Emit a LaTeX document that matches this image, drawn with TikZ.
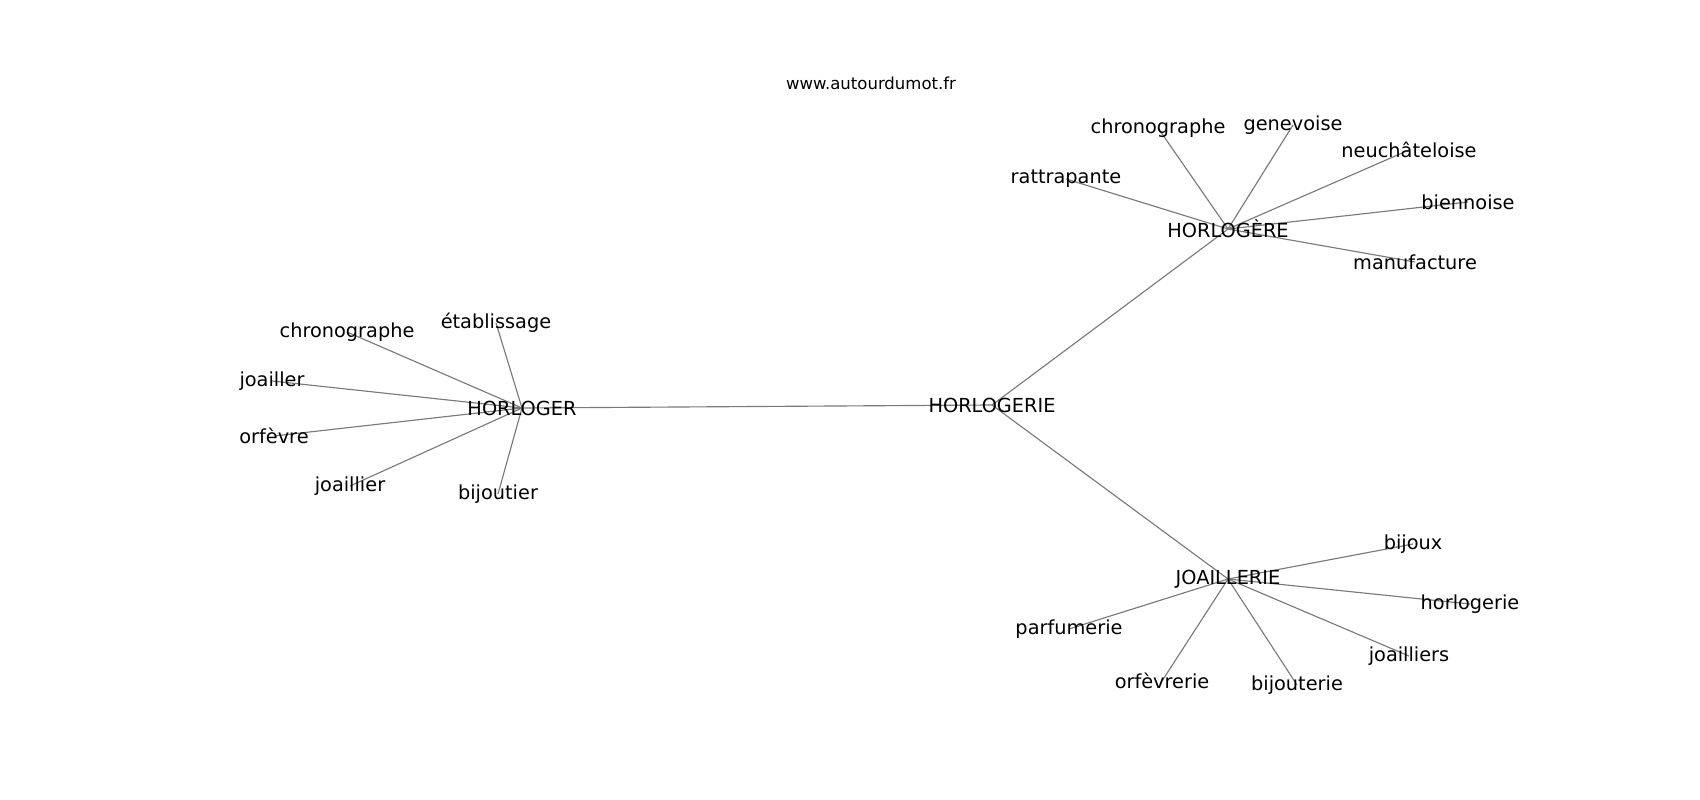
\documentclass[tikz,border=0pt]{standalone}
\usepackage{fontspec}
\setmainfont{DejaVu Sans}
\usetikzlibrary{backgrounds}

\tikzset{
  word/.style={font=\fontsize{11}{13}\selectfont, inner sep=0pt, text=black},
  site/.style={font=\fontsize{9.4}{11}\selectfont, inner sep=0pt},
  link/.style={draw=black!52, line width=0.65pt}
}

\begin{document}
\begin{tikzpicture}[x=0.02cm, y=-0.02cm]
        \useasboundingbox (0, 0) rectangle (1700, 800);

        \node[site] (title) at (871, 83) {www.autourdumot.fr};

        % the four centres
        \node[word] (hgerie) at (992, 405) {HORLOGERIE};
        \node[word] (hger) at (522, 408) {HORLOGER};
        \node[word] (hgere) at (1228, 229) {HORLOGÈRE};
        \node[word] (joail) at (1228, 579) {JOAILLERIE};

        % around HORLOGER
        \node[word] (hger1) at (347, 332) {chronographe};
        \node[word] (hger2) at (496, 323) {établissage};
        \node[word] (hger3) at (272, 381) {joailler};
        \node[word] (hger4) at (274, 436) {orfèvre};
        \node[word] (hger5) at (350, 486) {joaillier};
        \node[word] (hger6) at (498, 494) {bijoutier};

        % around HORLOGÈRE
        \node[word] (hgere1) at (1066, 179) {rattrapante};
        \node[word] (hgere2) at (1158, 128) {chronographe};
        \node[word] (hgere3) at (1293, 125) {genevoise};
        \node[word] (hgere4) at (1409, 150) {neuchâteloise};
        \node[word] (hgere5) at (1468, 202) {biennoise};
        \node[word] (hgere6) at (1415, 262) {manufacture};

        % around JOAILLERIE
        \node[word] (joail1) at (1413, 544) {bijoux};
        \node[word] (joail2) at (1470, 604) {horlogerie};
        \node[word] (joail3) at (1409, 656) {joailliers};
        \node[word] (joail4) at (1297, 685) {bijouterie};
        \node[word] (joail5) at (1162, 681) {orfèvrerie};
        \node[word] (joail6) at (1069, 629) {parfumerie};

        \begin{scope}[on background layer]
            \foreach \a in {hger, hgere, joail}
                \draw[link] (hgerie.center) -- (\a.center);
            \foreach \a in {hger, hgere, joail}
                \foreach \i in {1,...,6}
                    \draw[link] (\a.center) -- (\a\i.center);
        \end{scope}
\end{tikzpicture}
\end{document}
